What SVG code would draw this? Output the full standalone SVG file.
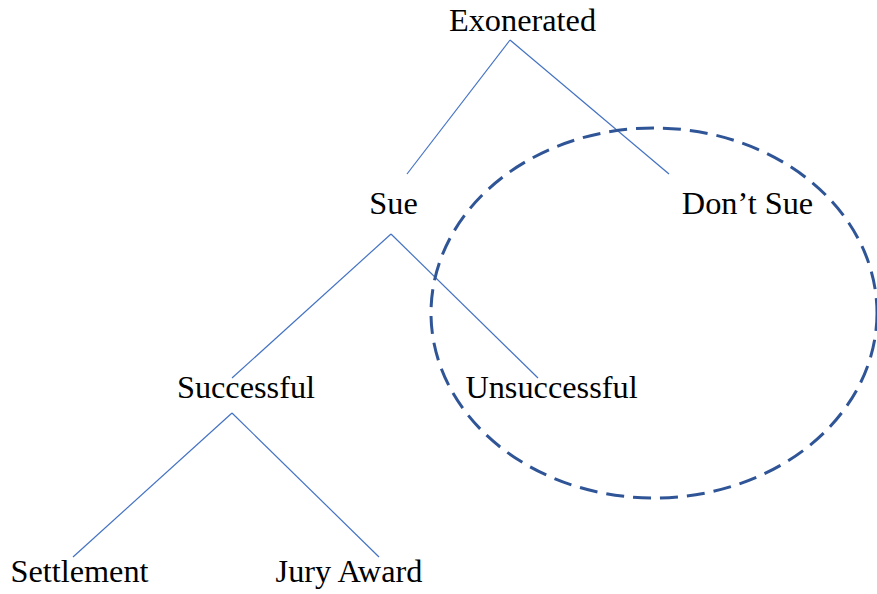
<svg xmlns="http://www.w3.org/2000/svg" width="877" height="594" viewBox="0 0 877 594">
<style>
text{font-family:"Liberation Serif","Times New Roman",serif;font-size:32.3px;fill:#000;text-anchor:middle}
.c{stroke:#4472C4;stroke-width:1.2;fill:none}
.o{stroke:#2F5597;stroke-width:3;fill:none;stroke-dasharray:18 9}
</style>
<rect width="877" height="594" fill="#fff"/>
<g id="connectors">
<line class="c" x1="510" y1="40" x2="407" y2="174"/>
<line class="c" x1="510" y1="40" x2="669" y2="174"/>
<line class="c" x1="391" y1="234" x2="232" y2="378"/>
<line class="c" x1="391" y1="234" x2="538" y2="378"/>
<line class="c" x1="232" y1="413" x2="73" y2="557"/>
<line class="c" x1="232" y1="413" x2="379" y2="557"/>
</g>
<g id="highlight"><ellipse class="o" cx="654" cy="313" rx="223" ry="185"/></g>
<g id="exonerated"><text x="522.5" y="31">Exonerated</text></g>
<g id="sue"><text x="393.5" y="214">Sue</text></g>
<g id="dont-sue"><text x="747.5" y="214">Don’t Sue</text></g>
<g id="successful"><text x="246" y="398">Successful</text></g>
<g id="unsuccessful"><text x="551.5" y="398">Unsuccessful</text></g>
<g id="settlement"><text x="79.5" y="582">Settlement</text></g>
<g id="jury-award"><text x="349" y="582">Jury Award</text></g>
</svg>
